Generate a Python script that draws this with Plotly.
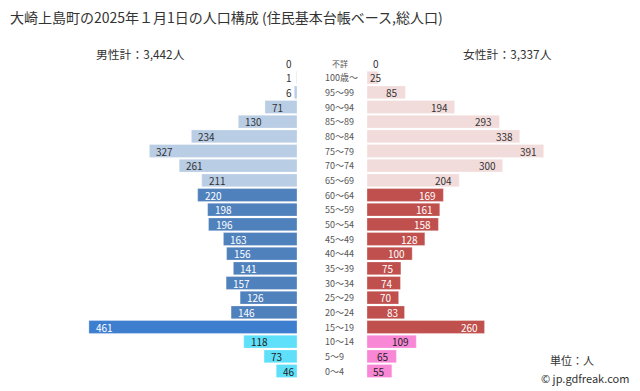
import plotly.graph_objects as go

ages = ["不詳", "100歳～", "95～99", "90～94", "85～89", "80～84", "75～79", "70～74",
        "65～69", "60～64", "55～59", "50～54", "45～49", "40～44", "35～39", "30～34",
        "25～29", "20～24", "15～19", "10～14", "5～9", "0～4"]
male = [0, 1, 6, 71, 130, 234, 327, 261, 211, 220, 198, 196, 163, 156, 141, 157, 126, 146, 461, 118, 73, 46]
female = [0, 25, 85, 194, 293, 338, 391, 300, 204, 169, 161, 158, 128, 100, 75, 74, 70, 83, 260, 109, 65, 55]
title = "大崎上島町の2025年１月1日の人口構成 (住民基本台帳ベース,総人口)"
male_total = "男性計：3,442人"
female_total = "女性計：3,337人"

FONT = "Noto Sans CJK JP"
n = len(ages)
ypos = list(range(n - 1, -1, -1))


def group(label):
    if label in ("10～14", "5～9", "0～4"):
        return "child"
    if label == "15～19":
        return "teen"
    if label in ("不詳", "100歳～", "95～99", "90～94", "85～89", "80～84", "75～79", "70～74", "65～69"):
        return "old"
    return "work"


mcol = {"old": "#b9cde5", "work": "#4f81bd", "teen": "#3d7ecf", "child": "#5ee0fa"}
fcol = {"old": "#f2dcdb", "work": "#c0504d", "teen": "#c0504d", "child": "#f887d6"}
mtxt = {"old": "#333333", "work": "#ffffff", "teen": "#ffffff", "child": "#222222"}
ftxt = {"old": "#333333", "work": "#ffffff", "teen": "#ffffff", "child": "#222222"}

groups = [group(a) for a in ages]

fig = go.Figure()
fig.add_trace(go.Bar(x=male, y=ypos, orientation="h", xaxis="x", yaxis="y",
                     width=0.88, marker=dict(color=[mcol[g] for g in groups],
                                             line=dict(color="rgba(255,255,255,0.5)", width=0.6)),
                     hoverinfo="skip", showlegend=False))
fig.add_trace(go.Bar(x=female, y=ypos, orientation="h", xaxis="x2", yaxis="y",
                     width=0.88, marker=dict(color=[fcol[g] for g in groups],
                                             line=dict(color="rgba(255,255,255,0.5)", width=0.6)),
                     hoverinfo="skip", showlegend=False))

ann = []
for i, (a, m, f, g) in enumerate(zip(ages, male, female, groups)):
    y = ypos[i]
    if m >= 40:
        ann.append(dict(x=m, y=y, xref="x", yref="y", text=str(m), showarrow=False,
                        xanchor="left", xshift=5, font=dict(size=10, color=mtxt[g], family=FONT)))
    else:
        ann.append(dict(x=0, y=y, xref="x", yref="y", text=str(m), showarrow=False,
                        xanchor="center", xshift=-8, font=dict(size=10, color="#333333", family=FONT)))
    if f >= 40:
        ann.append(dict(x=f, y=y, xref="x2", yref="y", text=str(f), showarrow=False,
                        xanchor="right", xshift=-5, font=dict(size=10, color=ftxt[g], family=FONT)))
    else:
        ann.append(dict(x=0, y=y, xref="x2", yref="y", text=str(f), showarrow=False,
                        xanchor="center", xshift=9, font=dict(size=10, color="#333333", family=FONT)))
    if a == "不詳":
        ann.append(dict(x=340 / 640, y=y, xref="paper", yref="y", text=a, showarrow=False,
                        xanchor="center", font=dict(size=8, color="#555555", family=FONT)))
    else:
        ann.append(dict(x=323 / 640, y=y, xref="paper", yref="y", text=a, showarrow=False,
                        xanchor="left", font=dict(size=9, color="#555555", family=FONT)))

ann.append(dict(x=8 / 640, y=1 - 17 / 391, xref="paper", yref="paper", text=title, showarrow=False,
                xanchor="left", yanchor="middle", font=dict(size=14, color="#333333", family=FONT)))
ann.append(dict(x=94 / 640, y=1 - 54 / 391, xref="paper", yref="paper", text=male_total, showarrow=False,
                xanchor="left", yanchor="middle", font=dict(size=11.8, color="#333333", family=FONT)))
ann.append(dict(x=461 / 640, y=1 - 54 / 391, xref="paper", yref="paper", text=female_total, showarrow=False,
                xanchor="left", yanchor="middle", font=dict(size=11.8, color="#333333", family=FONT)))
ann.append(dict(x=596 / 640, y=1 - 360 / 391, xref="paper", yref="paper", text="単位：人", showarrow=False,
                xanchor="right", yanchor="middle", font=dict(size=11, color="#333333", family=FONT)))
ann.append(dict(x=631 / 640, y=1 - 378 / 391, xref="paper", yref="paper", text="© jp.gdfreak.com", showarrow=False,
                xanchor="right", yanchor="middle", font=dict(size=11, color="#333333", family=FONT)))

fig.update_layout(
    width=640, height=391,
    margin=dict(l=0, r=0, t=0, b=0),
    paper_bgcolor="white", plot_bgcolor="white",
    barmode="overlay",
    xaxis=dict(domain=[60 / 640, 297 / 640], range=[525, 0], visible=False, fixedrange=True),
    xaxis2=dict(domain=[367 / 640, 600 / 640], range=[0, 515.5], visible=False, fixedrange=True),
    yaxis=dict(domain=[(391 - 378.33) / 391, (391 - 55.67) / 391], range=[-0.5, n - 0.5],
               visible=False, fixedrange=True),
    annotations=ann,
    font=dict(family=FONT),
)

fig.write_html("out.html", config={"displayModeBar": False},
               post_script="document.body.style.margin='0';document.body.style.padding='0';"
                           "document.documentElement.style.overflow='hidden';")
